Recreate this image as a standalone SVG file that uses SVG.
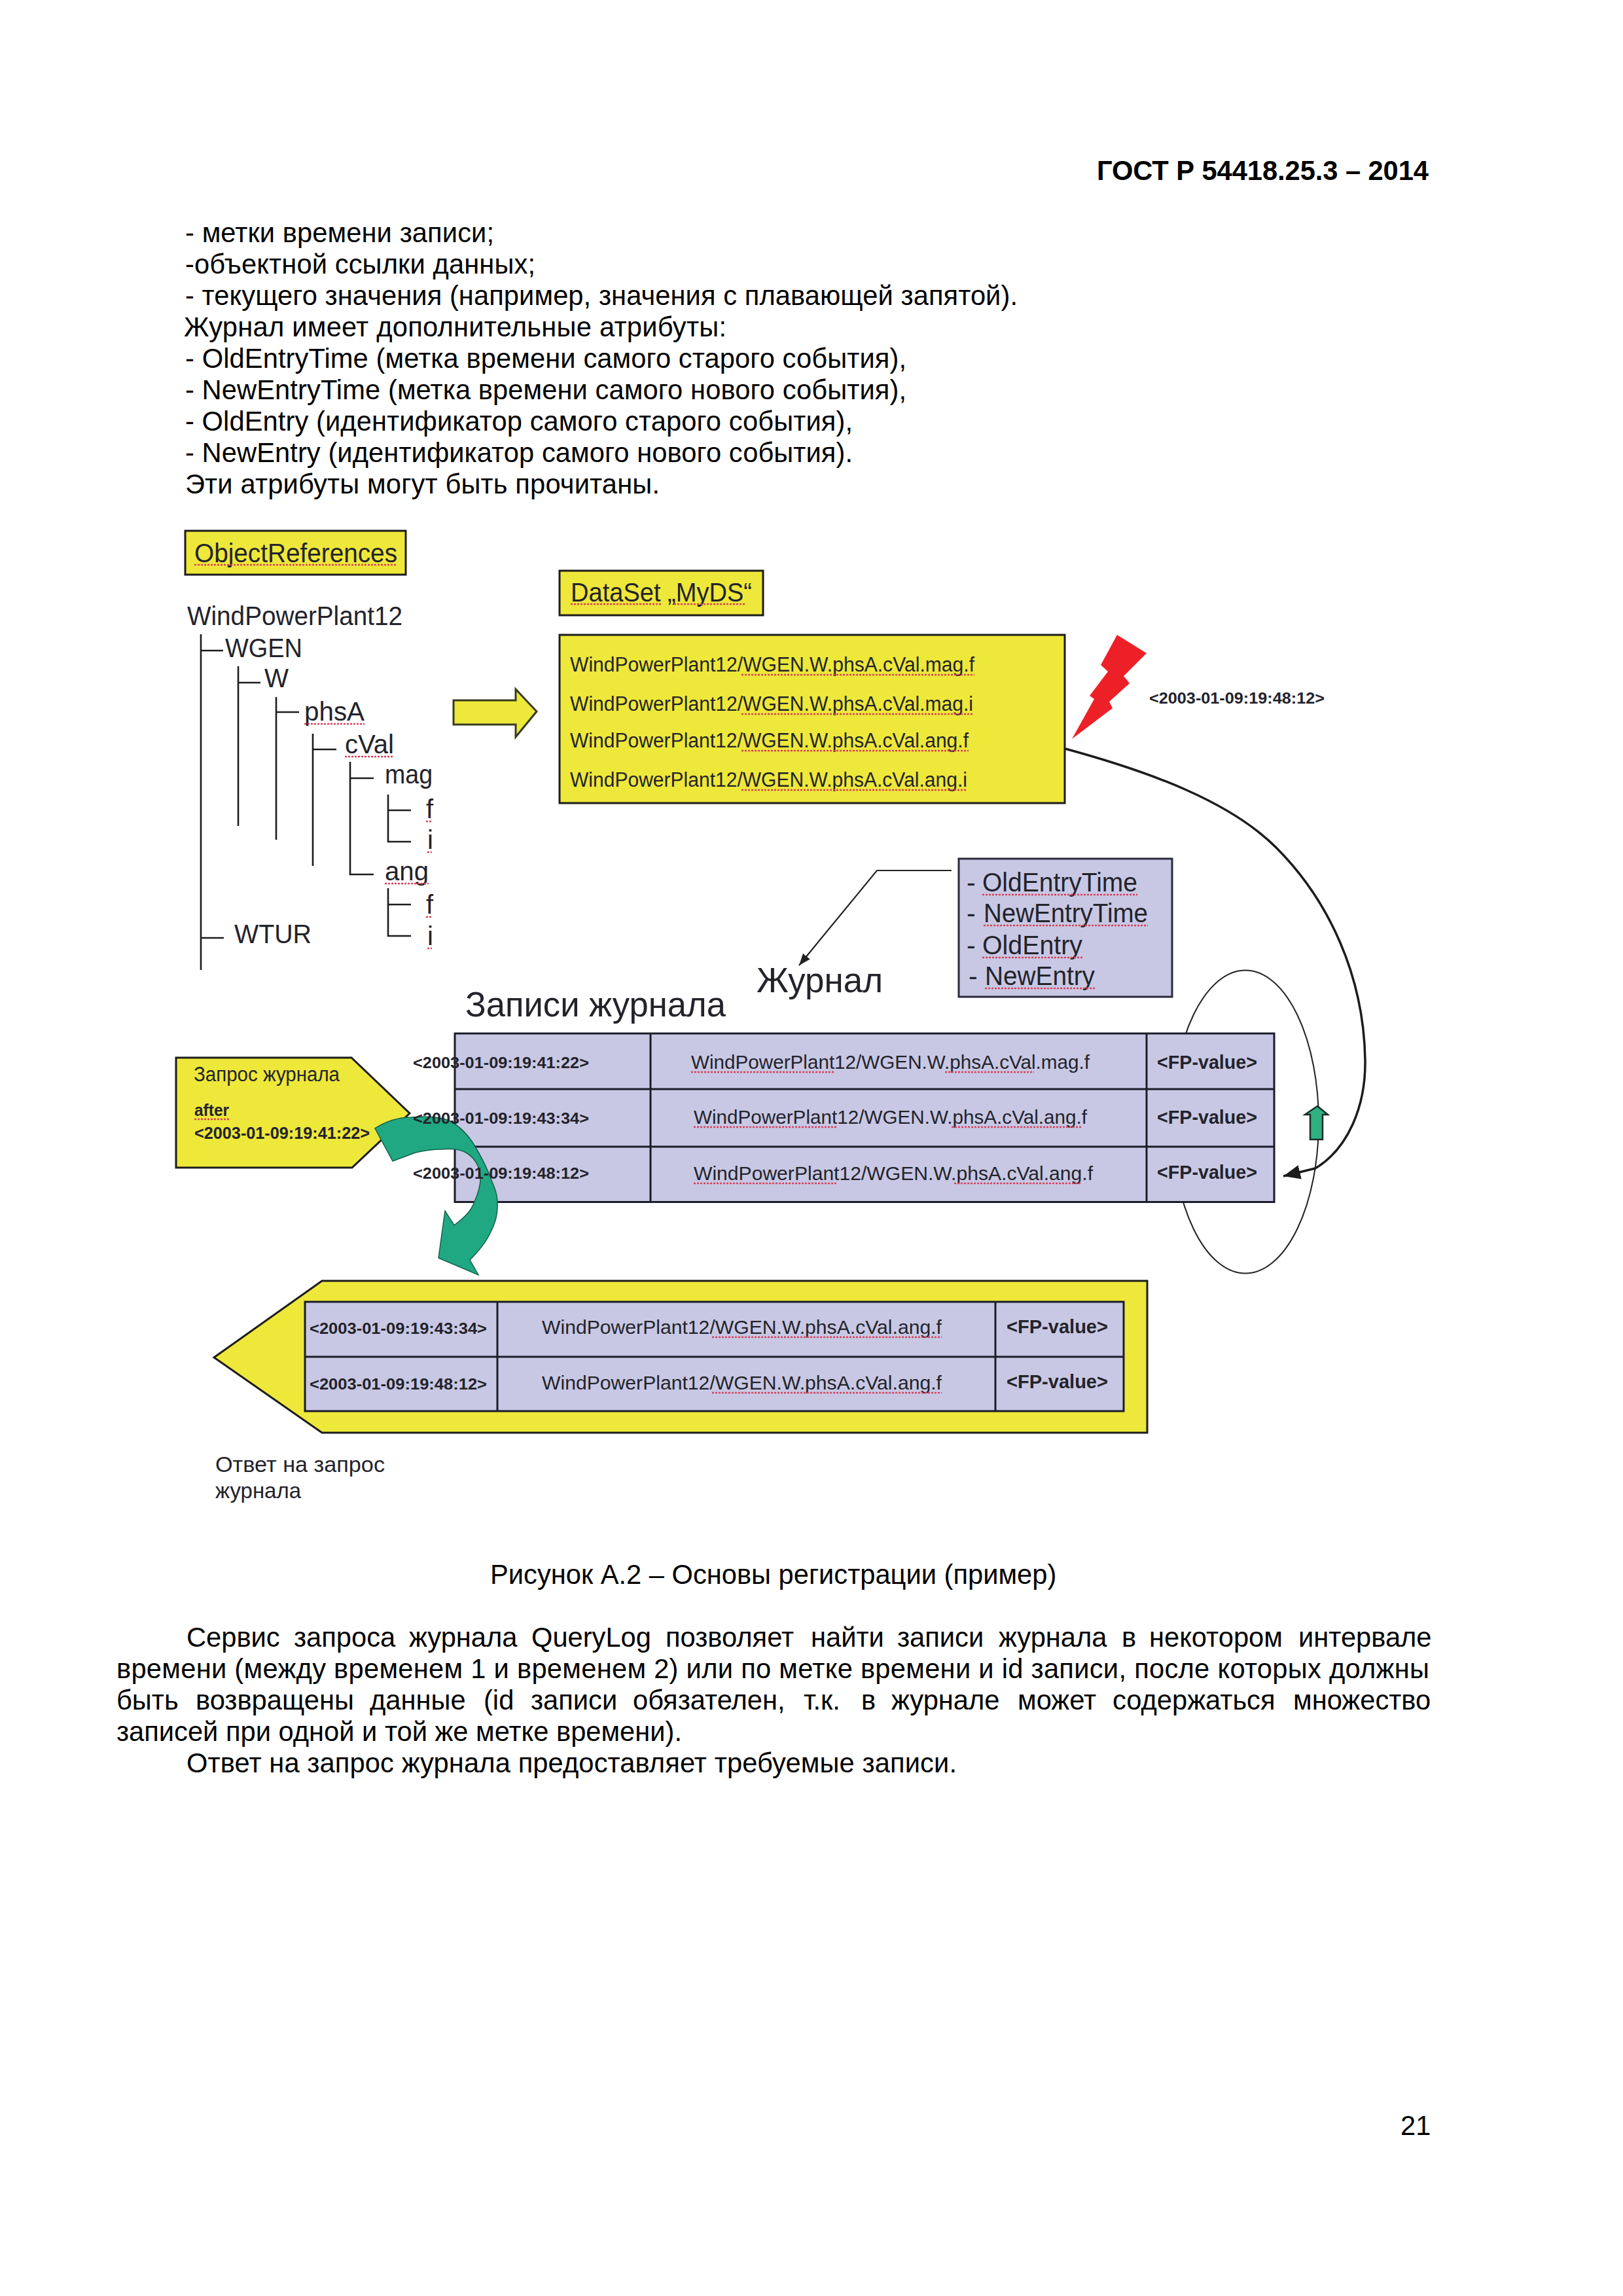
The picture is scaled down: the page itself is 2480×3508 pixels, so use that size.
<svg xmlns="http://www.w3.org/2000/svg" width="2480" height="3508" viewBox="0 0 2480 3508">
<style>
text{font-family:"Liberation Sans",Arial,sans-serif;fill:#000}
.pg{font-size:41.67px}
.b{font-weight:700}
.im{fill:#23232b}
.t40{font-size:40px}
.t41{font-size:41px}
.t31{font-size:31px}
.t30{font-size:30px}
.t53{font-size:53px}
.t34{font-size:34px}
.ts{font-size:24.5px;font-weight:700}
.fp{font-size:29px;font-weight:700}
.y{fill:#eee83a;stroke:#1c1c1c;stroke-width:3}
.l{fill:#c8c8e4;stroke:#1c1c2a;stroke-width:3}
.cell{fill:none;stroke:#1c1c2a;stroke-width:3}
.tr{fill:none;stroke:#1c1c1c;stroke-width:2.6}
.sq{stroke:#d8405a;stroke-width:2.5;stroke-dasharray:3 2;fill:none}
.gr{fill:#20a882;stroke:#14604a;stroke-width:1.5}
</style>
<defs>
<marker id="ah" markerUnits="userSpaceOnUse" markerWidth="20" markerHeight="16" refX="18" refY="8" orient="auto"><path d="M0,1 L18,8 L0,15 Z" fill="#222"/></marker>
<marker id="ah2" markerUnits="userSpaceOnUse" markerWidth="28" markerHeight="24" refX="26" refY="12" orient="auto"><path d="M0,1 L26,12 L0,23 Z" fill="#1c1c1c"/></marker>
</defs>
<rect width="2480" height="3508" fill="#fff"/>

<g id="page-text-top">
<text class="pg b" x="1676" y="275" textLength="507">ГОСТ Р 54418.25.3 – 2014</text>
<text class="pg" x="283" y="370" textLength="472">- метки времени записи;</text>
<text class="pg" x="283" y="418" textLength="535">-объектной ссылки данных;</text>
<text class="pg" x="283" y="466" textLength="1272">- текущего значения (например, значения с плавающей запятой).</text>
<text class="pg" x="281" y="514" textLength="829">Журнал имеет дополнительные атрибуты:</text>
<text class="pg" x="283" y="562" textLength="1102">- OldEntryTime (метка времени самого старого события),</text>
<text class="pg" x="283" y="610" textLength="1102">- NewEntryTime (метка времени самого нового события),</text>
<text class="pg" x="283" y="658" textLength="1020">- OldEntry (идентификатор самого старого события),</text>
<text class="pg" x="283" y="706" textLength="1020">- NewEntry (идентификатор самого нового события).</text>
<text class="pg" x="283" y="754" textLength="725">Эти атрибуты могут быть прочитаны.</text>
</g>

<g id="object-references">
<rect class="y" x="283" y="811" width="337" height="67"/>
<text class="im t40" x="297" y="859" textLength="310" lengthAdjust="spacingAndGlyphs">ObjectReferences</text>
</g>

<g id="tree-labels">
<text class="im t40" x="286" y="955" textLength="329" lengthAdjust="spacingAndGlyphs">WindPowerPlant12</text>
<text class="im t40" x="344" y="1004" textLength="118" lengthAdjust="spacingAndGlyphs">WGEN</text>
<text class="im t40" x="404" y="1050" textLength="37" lengthAdjust="spacingAndGlyphs">W</text>
<text class="im t40" x="465" y="1101" textLength="92" lengthAdjust="spacingAndGlyphs">phsA</text>
<text class="im t40" x="527" y="1151" textLength="75" lengthAdjust="spacingAndGlyphs">cVal</text>
<text class="im t40" x="588" y="1197" textLength="73" lengthAdjust="spacingAndGlyphs">mag</text>
<text class="im t40" x="651" y="1250">f</text>
<text class="im t40" x="653" y="1297">i</text>
<text class="im t40" x="588" y="1345" textLength="67" lengthAdjust="spacingAndGlyphs">ang</text>
<text class="im t40" x="651" y="1396">f</text>
<text class="im t40" x="653" y="1444">i</text>
<text class="im t40" x="358" y="1441" textLength="118" lengthAdjust="spacingAndGlyphs">WTUR</text>
</g>

<g id="dataset-title">
<rect class="y" x="855" y="872" width="311" height="68"/>
<text class="im t40" x="872" y="919" textLength="277" lengthAdjust="spacingAndGlyphs">DataSet „MyDS“</text>
</g>

<g id="dataset">
<rect class="y" x="855" y="970" width="772" height="257"/>
<text class="im t31" x="871" y="1026" textLength="618" lengthAdjust="spacingAndGlyphs">WindPowerPlant12/WGEN.W.phsA.cVal.mag.f</text>
<text class="im t31" x="871" y="1086" textLength="616" lengthAdjust="spacingAndGlyphs">WindPowerPlant12/WGEN.W.phsA.cVal.mag.i</text>
<text class="im t31" x="871" y="1142" textLength="609" lengthAdjust="spacingAndGlyphs">WindPowerPlant12/WGEN.W.phsA.cVal.ang.f</text>
<text class="im t31" x="871" y="1202" textLength="607" lengthAdjust="spacingAndGlyphs">WindPowerPlant12/WGEN.W.phsA.cVal.ang.i</text>
</g>

<g id="dataset-arrow">
<path d="M693,1070 H788 V1053 L820,1087 L788,1126 V1107 H693 Z" fill="#eee83a" stroke="#3a3a20" stroke-width="3"/>
</g>

<g id="trigger">
<path d="M1707,970 L1752,998 L1717,1033 L1726,1044 L1695,1072 L1700,1082 L1638,1129 L1672,1068 L1665,1063 L1693,1026 L1682,1016 Z" fill="#ee2027"/>
<text class="ts im" x="1756" y="1075" textLength="268" lengthAdjust="spacingAndGlyphs">&lt;2003-01-09:19:48:12&gt;</text>
</g>

<g id="attributes">
<rect x="1465" y="1312" width="326" height="211" fill="#c8c8e4" stroke="#2a2a3a" stroke-width="3"/>
<text class="im t41" x="1477" y="1362">-</text>
<text class="im t41" x="1501" y="1362" textLength="237" lengthAdjust="spacingAndGlyphs">OldEntryTime</text>
<text class="im t41" x="1477" y="1409">-</text>
<text class="im t41" x="1503" y="1409" textLength="251" lengthAdjust="spacingAndGlyphs">NewEntryTime</text>
<text class="im t41" x="1477" y="1458">-</text>
<text class="im t41" x="1501" y="1458" textLength="153" lengthAdjust="spacingAndGlyphs">OldEntry</text>
<text class="im t41" x="1480" y="1505">-</text>
<text class="im t41" x="1505" y="1505" textLength="168" lengthAdjust="spacingAndGlyphs">NewEntry</text>
</g>

<g id="journal-labels">
<text class="im t53" x="1156" y="1516" textLength="193" lengthAdjust="spacingAndGlyphs">Журнал</text>
<text class="im t53" x="711" y="1553" textLength="398" lengthAdjust="spacingAndGlyphs">Записи журнала</text>
</g>

<g id="cycle">
<ellipse cx="1903" cy="1714" rx="112" ry="231.5" fill="none" stroke="#222" stroke-width="2"/>
</g>

<g id="log-table">
<rect class="l" x="695" y="1579" width="1252" height="257.5"/>
<path class="cell" d="M994,1579 V1836.5 M1752,1579 V1836.5 M695,1664 H1947 M695,1752 H1947"/>
<text class="im t30" x="1056" y="1633" textLength="609" lengthAdjust="spacingAndGlyphs">WindPowerPlant12/WGEN.W.phsA.cVal.mag.f</text>
<text class="im t30" x="1060" y="1717" textLength="601" lengthAdjust="spacingAndGlyphs">WindPowerPlant12/WGEN.W.phsA.cVal.ang.f</text>
<text class="im t30" x="1060" y="1803" textLength="610" lengthAdjust="spacingAndGlyphs">WindPowerPlant12/WGEN.W.phsA.cVal.ang.f</text>
<text class="fp im" x="1768" y="1633" textLength="153" lengthAdjust="spacingAndGlyphs">&lt;FP-value&gt;</text>
<text class="fp im" x="1768" y="1717" textLength="153" lengthAdjust="spacingAndGlyphs">&lt;FP-value&gt;</text>
<text class="fp im" x="1768" y="1801" textLength="153" lengthAdjust="spacingAndGlyphs">&lt;FP-value&gt;</text>
</g>

<g id="query">
<path class="y" d="M269,1616 H537 L626,1701 L538,1784 H269 Z"/>
<text class="im t31" x="296" y="1652" textLength="223" lengthAdjust="spacingAndGlyphs">Запрос журнала</text>
<text class="im b" style="font-size:25px" x="297" y="1705" textLength="53" lengthAdjust="spacingAndGlyphs">after</text>
<text class="im b" style="font-size:25px" x="297" y="1739.5" textLength="268" lengthAdjust="spacingAndGlyphs">&lt;2003-01-09:19:41:22&gt;</text>
</g>

<g id="green-arrow-curved">
<path class="gr" d="M573,1724 C590,1713 610,1707 629,1707 C655,1705 672,1706 686,1712 C705,1722 716,1735 725,1750 C738,1772 745,1786 750,1801 C756,1815 760,1825 760,1836 C761,1855 757,1868 750,1882 C742,1900 730,1913 718,1925 L731,1948 L670,1922 L680,1850 L694,1872 C710,1860 720,1850 725,1836 C732,1820 735,1808 734,1796 C732,1780 724,1768 712,1761 C700,1755 688,1755 674,1756 C660,1756 648,1758 635,1761 L600,1774 Z"/>
</g>

<g id="log-table-timestamps">
<text class="ts im" x="631" y="1632" textLength="269" lengthAdjust="spacingAndGlyphs">&lt;2003-01-09:19:41:22&gt;</text>
<text class="ts im" x="631" y="1716.5" textLength="269" lengthAdjust="spacingAndGlyphs">&lt;2003-01-09:19:43:34&gt;</text>
<text class="ts im" x="631" y="1801" textLength="269" lengthAdjust="spacingAndGlyphs">&lt;2003-01-09:19:48:12&gt;</text>
</g>

<g id="green-arrow-up">
<path d="M2013,1690 L2029,1703 H2021 V1741 H2002 V1703 H1994 Z" fill="#2fb083" stroke="#1c2c28" stroke-width="2.5"/>
</g>

<g id="response">
<path class="y" d="M327,2074 L492,1957 H1753 V2189 H492 Z"/>
<rect class="l" x="466" y="1989" width="1251" height="167"/>
<path class="cell" d="M760,1989 V2156 M1521,1989 V2156 M466,2073 H1717"/>
<text class="ts im" x="473" y="2038" textLength="271" lengthAdjust="spacingAndGlyphs">&lt;2003-01-09:19:43:34&gt;</text>
<text class="ts im" x="473" y="2123" textLength="271" lengthAdjust="spacingAndGlyphs">&lt;2003-01-09:19:48:12&gt;</text>
<text class="im t30" x="828" y="2038" textLength="611" lengthAdjust="spacingAndGlyphs">WindPowerPlant12/WGEN.W.phsA.cVal.ang.f</text>
<text class="im t30" x="828" y="2123" textLength="611" lengthAdjust="spacingAndGlyphs">WindPowerPlant12/WGEN.W.phsA.cVal.ang.f</text>
<text class="fp im" x="1538" y="2037" textLength="155" lengthAdjust="spacingAndGlyphs">&lt;FP-value&gt;</text>
<text class="fp im" x="1538" y="2121" textLength="155" lengthAdjust="spacingAndGlyphs">&lt;FP-value&gt;</text>
<text class="im t34" x="329" y="2249" textLength="259" lengthAdjust="spacingAndGlyphs">Ответ на запрос</text>
<text class="im t34" x="329" y="2289" textLength="131" lengthAdjust="spacingAndGlyphs">журнала</text>
</g>

<g id="connectors">
<path class="tr" d="M307,969 V1482 M307,994 H341 M307,1433 H342"/>
<path class="tr" d="M364,1018 V1262 M364,1043 H398"/>
<path class="tr" d="M422,1065 V1283 M422,1088 H457"/>
<path class="tr" d="M478,1121 V1323 M478,1145 H514"/>
<path class="tr" d="M535,1164 V1336 H571 M535,1189 H571"/>
<path class="tr" d="M593,1214 V1286 H628 M593,1238 H628"/>
<path class="tr" d="M593,1357 V1430 H628 M593,1382 H628"/>
<path fill="none" stroke="#222" stroke-width="2.2" marker-end="url(#ah)" d="M1454,1330 H1340 L1221,1475"/>
<path fill="none" stroke="#1c1c1c" stroke-width="3.5" marker-end="url(#ah2)" d="M1628,1144 C1760,1180 1880,1225 1950,1295 C2030,1375 2084,1490 2086,1620 C2087,1690 2060,1755 2010,1785 L1961,1797"/>
</g>

<g id="spell-marks">
<path class="sq" d="M297,863 H607 M872,923 H1010 M1030,923 H1140"/>
<path class="sq" d="M1133,1031 H1489 M1133,1091 H1487 M1133,1147 H1480 M1133,1207 H1478"/>
<path class="sq" d="M465,1106 H557 M527,1156 H602 M588,1350 H655 M651,1255 H660 M653,1302 H660 M651,1401 H660 M653,1449 H660"/>
<path class="sq" d="M1501,1367 H1738 M1503,1414 H1754 M1501,1463 H1654 M1505,1510 H1673"/>
<path class="sq" d="M1056,1638 H1274 M1444,1638 H1580 M1060,1722 H1279 M1454,1722 H1654 M1060,1808 H1279 M1458,1808 H1651"/>
<path class="sq" d="M1088,2043 H1439 M1088,2128 H1439 M297,1710 H350"/>
</g>

<g id="page-text-bottom">
<text class="pg" x="749" y="2420">Рисунок А.2 – Основы регистрации (пример)</text>
<text class="pg" y="2516"><tspan x="285">Сервис</tspan> <tspan x="449">запроса</tspan> <tspan x="625">журнала</tspan> <tspan x="812">QueryLog</tspan> <tspan x="1017">позволяет</tspan> <tspan x="1239">найти</tspan> <tspan x="1371">записи</tspan> <tspan x="1526">журнала</tspan> <tspan x="1714">в</tspan> <tspan x="1756">некотором</tspan> <tspan x="1984">интервале</tspan></text>
<text class="pg" x="178" y="2564" textLength="2006">времени (между временем 1 и временем 2) или по метке времени и id записи, после которых должны</text>
<text class="pg" y="2612"><tspan x="178">быть</tspan> <tspan x="299">возвращены</tspan> <tspan x="565">данные</tspan> <tspan x="739">(id</tspan> <tspan x="811">записи</tspan> <tspan x="967">обязателен,</tspan> <tspan x="1228">т.к.</tspan> <tspan x="1316">в</tspan> <tspan x="1362">журнале</tspan> <tspan x="1555">может</tspan> <tspan x="1700">содержаться</tspan> <tspan x="1976">множество</tspan></text>
<text class="pg" x="178" y="2660" textLength="864">записей при одной и той же метке времени).</text>
<text class="pg" x="285" y="2708" textLength="1177">Ответ на запрос журнала предоставляет требуемые записи.</text>
<text class="pg" x="2140" y="3262">21</text>
</g>
</svg>
